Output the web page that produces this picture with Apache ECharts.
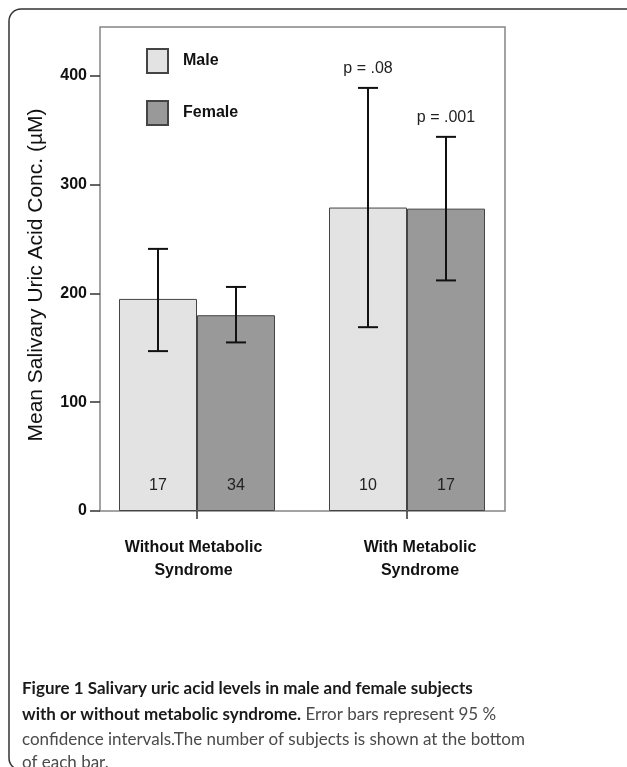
<!DOCTYPE html>
<html>
<head>
<meta charset="utf-8">
<script src="https://cdn.jsdelivr.net/npm/echarts@6/dist/echarts.min.js"></script>
<style>
html,body{margin:0;padding:0;background:#fff;}
#chart{width:627px;height:767px;}
</style>
</head>
<body>
<div id="chart"></div>
<script>
const categories = ['Without Metabolic\nSyndrome', 'With Metabolic\nSyndrome'];
const seriesNames = ['Male', 'Female'];
const maleMean = [195, 279];
const femaleMean = [180, 278];
const maleLow = [147, 169];
const maleHigh = [241, 389];
const femaleLow = [155, 212];
const femaleHigh = [206, 344];
const maleN = [17, 10];
const femaleN = [34, 17];
const maleP = ['', 'p = .08'];
const femaleP = ['', 'p = .001'];
const yTicks = [0, 100, 200, 300, 400];
const yMax = 445;
const yTitle = 'Mean Salivary Uric Acid Conc. (\u00b5M)';
const captionLines = [
  'Figure 1 Salivary uric acid levels in male and female subjects',
  'with or without metabolic syndrome.',
  ' Error bars represent 95 %',
  'confidence intervals.The number of subjects is shown at the bottom',
  'of each bar.'
];

const FONT = '"Liberation Sans", Arial, sans-serif';
const CAP_FONT = 'Lato, "Noto Sans", sans-serif';
const BAR_W = 78;

const chart = echarts.init(document.getElementById('chart'), null, {renderer: 'canvas'});

function errSeries(name, low, high, pLabels, side) {
  return {
    name: name + ' CI',
    type: 'custom',
    xAxisIndex: 1, yAxisIndex: 1,
    silent: true,
    z: 5,
    data: low.map((l, i) => [i, l, high[i]]),
    renderItem: function (params, api) {
      const i = api.value(0);
      const top = api.coord([i, api.value(2)]);
      const bot = api.coord([i, api.value(1)]);
      const x = top[0] + side * BAR_W / 2;
      const ls = {stroke: '#111', lineWidth: 2};
      const children = [
        {type: 'line', shape: {x1: x, y1: top[1], x2: x, y2: bot[1]}, style: ls},
        {type: 'line', shape: {x1: x - 10, y1: top[1], x2: x + 10, y2: top[1]}, style: ls},
        {type: 'line', shape: {x1: x - 10, y1: bot[1], x2: x + 10, y2: bot[1]}, style: ls}
      ];
      const p = pLabels[params.dataIndex];
      if (p) {
        children.push({type: 'text', style: {text: p, x: x, y: top[1] - 11, align: 'center', verticalAlign: 'bottom',
          font: '16px ' + FONT, fill: '#222'}});
      }
      return {type: 'group', children: children};
    }
  };
}

const option = {
  animation: false,
  backgroundColor: '#fff',
  textStyle: {fontFamily: FONT},
  grid: [
    {left: 100, top: 27, width: 405, height: 484, show: true, borderColor: '#858585', borderWidth: 1.5, backgroundColor: 'transparent'},
    {left: 92, top: 27, width: 420, height: 484}
  ],
  legend: {
    orient: 'vertical', left: 141, top: 43, itemWidth: 21, itemHeight: 24, itemGap: 26,
    icon: 'rect', data: seriesNames,
    textStyle: {fontFamily: FONT, fontSize: 16, fontWeight: 'bold', color: '#111', padding: [0, 0, 0, 10]}
  },
  xAxis: [
    {type: 'value', gridIndex: 0, show: false, min: 0, max: 1},
    {type: 'category', gridIndex: 1,
      data: [
        {value: categories[0], textStyle: {padding: [0, 7, 0, 0]}},
        {value: categories[1], textStyle: {padding: [0, 0, 0, 26]}}
      ],
      axisLine: {show: false},
      axisTick: {show: true, alignWithLabel: true, length: 8, lineStyle: {color: '#333', width: 1.5}},
      axisLabel: {fontFamily: FONT, fontSize: 16, fontWeight: 'bold', color: '#111', lineHeight: 23, margin: 25, interval: 0}
    }
  ],
  yAxis: [
    {type: 'value', gridIndex: 0, min: 0, max: yMax,
      axisLine: {show: false},
      axisTick: {show: true, length: 10, customValues: yTicks, lineStyle: {color: '#333', width: 1.5}},
      axisLabel: {customValues: yTicks, fontFamily: FONT, fontSize: 16, fontWeight: 'bold', color: '#111', margin: 13},
      splitLine: {show: false},
      name: yTitle, nameLocation: 'middle', nameRotate: 90, nameGap: 53,
      nameTextStyle: {fontFamily: FONT, fontSize: 21, color: '#111', padding: [0, 12, 0, 0]}
    },
    {type: 'value', gridIndex: 1, min: 0, max: yMax, show: false, splitLine: {show: false}}
  ],
  series: [
    {name: seriesNames[0], type: 'bar', xAxisIndex: 1, yAxisIndex: 1, data: maleMean, barWidth: BAR_W, barGap: '0%',
      itemStyle: {color: '#e3e3e3', borderColor: '#444', borderWidth: 1},
      label: {show: true, position: 'insideBottom', distance: 17, fontFamily: FONT, fontSize: 16, color: '#222',
        formatter: p => String(maleN[p.dataIndex])}},
    {name: seriesNames[1], type: 'bar', xAxisIndex: 1, yAxisIndex: 1, data: femaleMean, barWidth: BAR_W, barGap: '0%',
      itemStyle: {color: '#999999', borderColor: '#444', borderWidth: 1},
      label: {show: true, position: 'insideBottom', distance: 17, fontFamily: FONT, fontSize: 16, color: '#222',
        formatter: p => String(femaleN[p.dataIndex])}},
    errSeries('Male', maleLow, maleHigh, maleP, -1),
    errSeries('Female', femaleLow, femaleHigh, femaleP, 1)
  ],
  graphic: [
    {type: 'rect', silent: true, z: -1, shape: {x: 9, y: 9, width: 640, height: 761, r: 12},
      style: {fill: 'none', stroke: '#333', lineWidth: 1.5}},
    {type: 'text', left: 22, top: 680, silent: true,
      style: {text: captionLines[0], font: 'bold 17px ' + CAP_FONT, fill: '#1a1a1a'}},
    {type: 'text', left: 22, top: 706, silent: true,
      style: {text: '{b|' + captionLines[1] + '}{n|' + captionLines[2] + '}',
        rich: {b: {font: 'bold 17px ' + CAP_FONT, fill: '#1a1a1a'},
               n: {font: '17px ' + CAP_FONT, fill: '#4a4a4a'}}}},
    {type: 'text', left: 22, top: 731, silent: true,
      style: {text: captionLines[3], font: '17px ' + CAP_FONT, fill: '#4a4a4a'}},
    {type: 'text', left: 22, top: 754, silent: true,
      style: {text: captionLines[4], font: '17px ' + CAP_FONT, fill: '#4a4a4a'}}
  ]
};
chart.setOption(option);
</script>
</body>
</html>
